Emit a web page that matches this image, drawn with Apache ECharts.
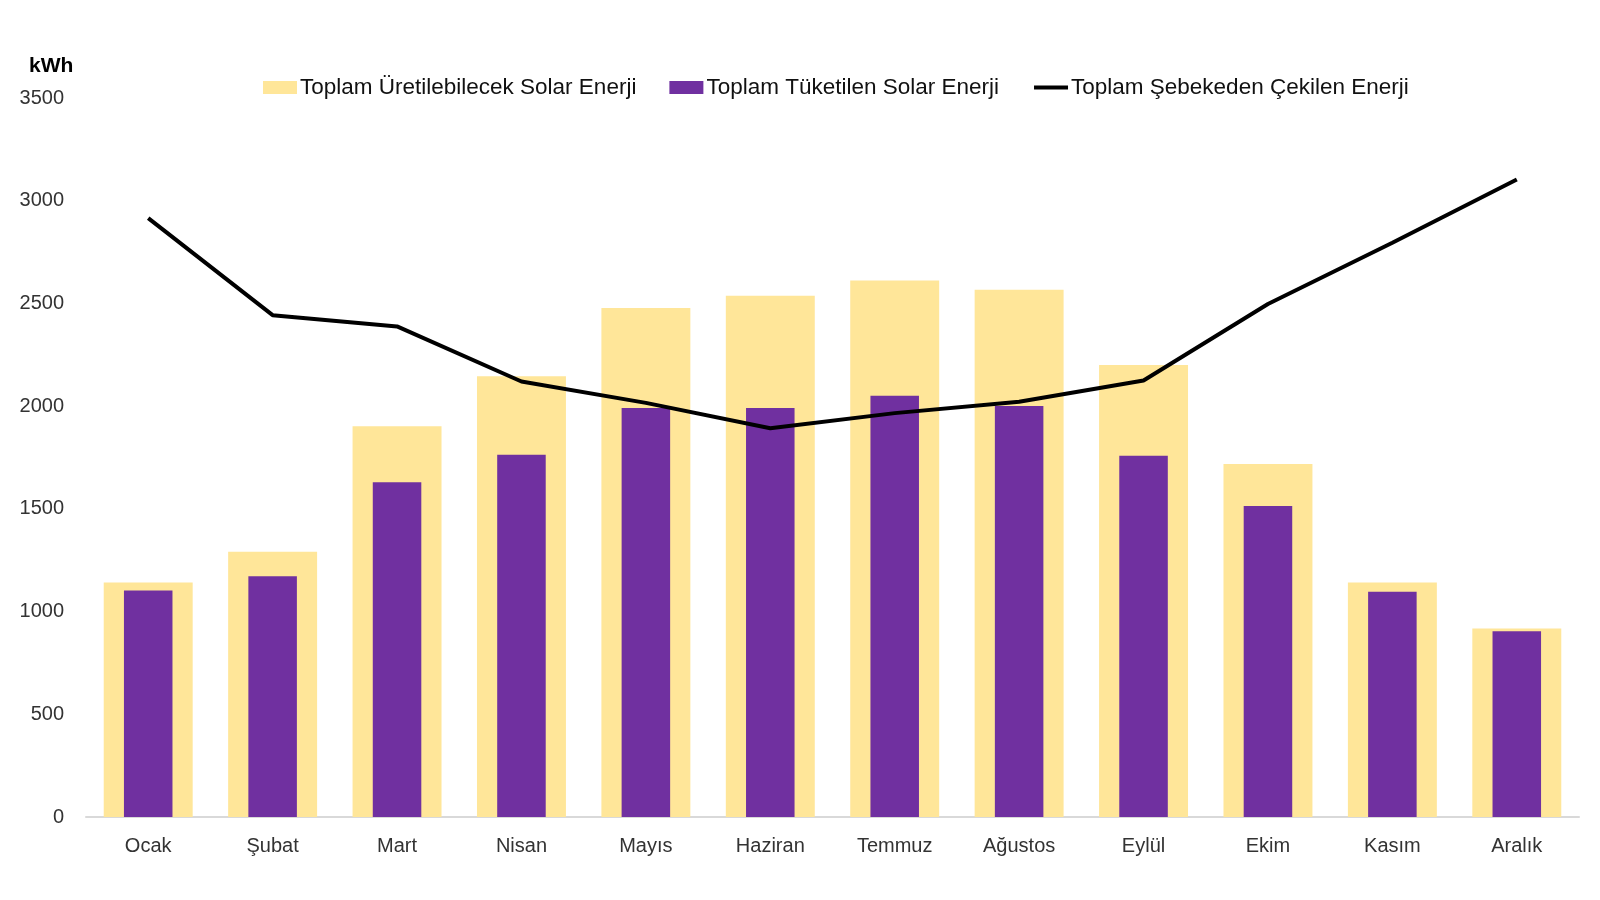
<!DOCTYPE html>
<html>
<head>
<meta charset="utf-8">
<script src="https://cdn.jsdelivr.net/npm/echarts@6/dist/echarts.min.js"></script>
<style>
  html, body { margin: 0; padding: 0; background: #fff; }
  #chart { width: 1600px; height: 900px; }
</style>
</head>
<body>
<div id="chart"></div>
<script>
const months = ['Ocak', 'Şubat', 'Mart', 'Nisan', 'Mayıs', 'Haziran', 'Temmuz', 'Ağustos', 'Eylül', 'Ekim', 'Kasım', 'Aralık'];
const uretilebilecek = [1142, 1291, 1902, 2145, 2478, 2537, 2612, 2567, 2200, 1718, 1142, 918];
const tuketilen = [1102, 1172, 1629, 1763, 1991, 1991, 2051, 2001, 1758, 1514, 1097, 904];
const sebekeden = [2915, 2443, 2388, 2120, 2016, 1892, 1966, 2021, 2125, 2497, 2795, 3103];

const seriesNames = ['Toplam Üretilebilecek Solar Enerji', 'Toplam Tüketilen Solar Enerji', 'Toplam Şebekeden Çekilen Enerji'];
const FONT = 'Liberation Sans';

const chart = echarts.init(document.getElementById('chart'));
chart.setOption({
  animation: false,
  textStyle: { fontFamily: FONT },
  title: {
    text: 'kWh',
    left: 24,
    top: 51,
    textStyle: { fontSize: 21, fontWeight: 'bold', color: '#000', fontFamily: FONT },
  },
  legend: {
    left: 258,
    top: 71,
    itemWidth: 34,
    itemHeight: 13,
    itemGap: 33,
    textStyle: { fontSize: 22.5, color: '#111', padding: [0, 0, 0, -2] },
    data: [
      { name: seriesNames[0], icon: 'rect' },
      { name: seriesNames[1], icon: 'rect' },
      { name: seriesNames[2], itemStyle: { opacity: 0 }, lineStyle: { width: 4, color: '#000' } },
    ],
  },
  grid: { left: 86, right: 21, top: 98, bottom: 83 },
  xAxis: [
    {
      type: 'category',
      data: months,
      axisLine: { show: true, lineStyle: { color: '#d9d9d9', width: 2 } },
      axisTick: { show: false },
      axisLabel: { margin: 19, fontSize: 20, color: '#333' },
    },
    {
      type: 'category',
      data: months,
      show: false,
      position: 'bottom',
    },
  ],
  yAxis: {
    type: 'value',
    min: 0,
    max: 3500,
    interval: 500,
    axisLine: { show: false },
    axisTick: { show: false },
    splitLine: { show: false },
    axisLabel: { margin: 22, fontSize: 20, color: '#333', formatter: v => String(v) },
  },
  series: [
    {
      name: seriesNames[0],
      type: 'bar',
      xAxisIndex: 0,
      barWidth: '71.5%',
      itemStyle: { color: '#FFE699' },
      data: uretilebilecek,
      z: 1,
    },
    {
      name: seriesNames[1],
      type: 'bar',
      xAxisIndex: 1,
      barWidth: '39%',
      itemStyle: { color: '#7030A0' },
      data: tuketilen,
      z: 2,
    },
    {
      name: seriesNames[2],
      type: 'line',
      xAxisIndex: 0,
      symbol: 'none',
      lineStyle: { color: '#000', width: 4 },
      itemStyle: { color: '#000' },
      data: sebekeden,
      z: 3,
    },
  ],
});
</script>
</body>
</html>
